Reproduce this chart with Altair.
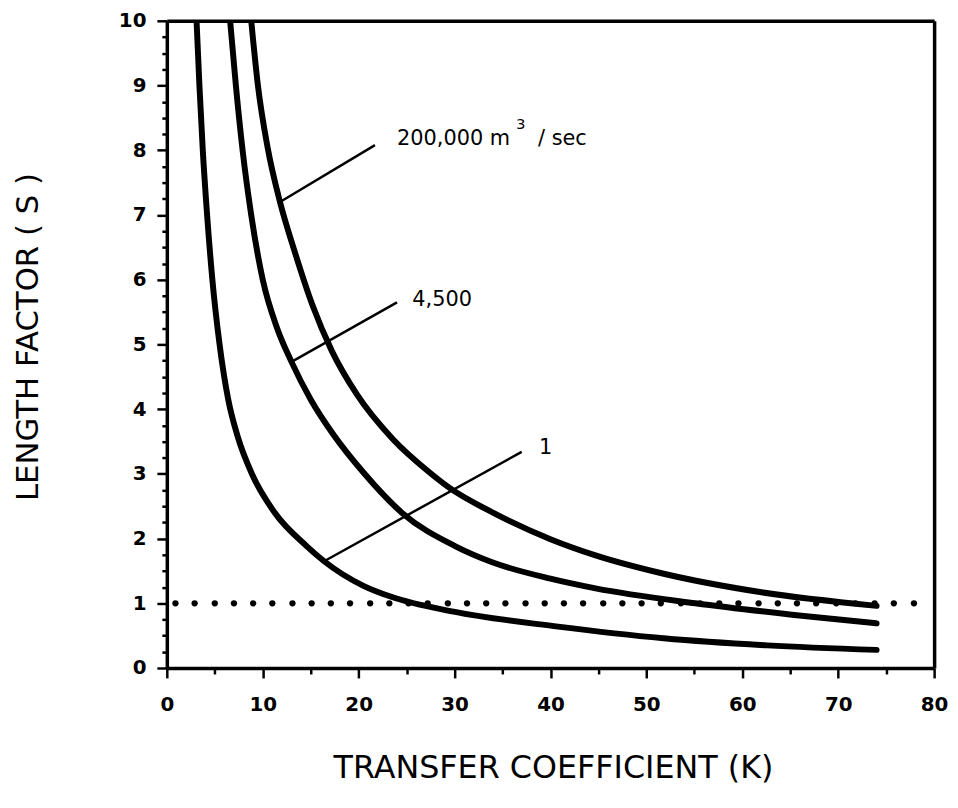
import altair as alt
import pandas as pd

# ---- data ----
Q_NAMES = ["1", "4,500", "200,000"]

K_Q1 = [3.1, 3.4, 3.75, 4.2, 4.75, 5.5, 6.4, 7.4, 8.9, 11.2, 14.6, 16.4, 20.5, 23.4, 29.9, 40.8, 51.8, 62.6, 74.0]
S_Q1 = [10.0, 9.0, 8.0, 7.0, 6.0, 5.0, 4.15, 3.57, 2.99, 2.41, 1.88, 1.65, 1.27, 1.1, 0.87, 0.64, 0.46, 0.35, 0.28]

K_Q2 = [6.6, 7.2, 7.9, 8.8, 10.0, 11.5, 13.0, 15.0, 17.4, 20.5, 24.5, 30.1, 34.0, 40.0, 44.7, 55.1, 65.4, 74.0]
S_Q2 = [10.0, 9.0, 8.0, 7.0, 6.0, 5.25, 4.73, 4.15, 3.6, 3.02, 2.4, 1.88, 1.63, 1.38, 1.23, 1.0, 0.82, 0.69]

K_Q3 = [8.8, 9.5, 10.5, 11.8, 13.3, 15.2, 17.2, 19.8, 23.6, 27.4, 29.4, 34.0, 40.0, 44.7, 51.7, 62.0, 74.0]
S_Q3 = [10.0, 9.0, 8.05, 7.2, 6.45, 5.6, 4.9, 4.23, 3.53, 3.02, 2.79, 2.4, 1.99, 1.74, 1.46, 1.17, 0.96]

# dotted reference line at S = 1 (dot positions)
DOT_K = [0.9, 2.9, 5.0, 7.0, 9.0, 11.0, 13.1, 15.1, 17.1, 19.1, 21.2, 23.2, 25.2,
         27.2, 29.3, 31.3, 33.3, 35.3, 37.4, 39.4, 41.4, 43.4, 45.5, 47.5, 49.5,
         51.5, 53.6, 55.6, 57.6, 59.6, 61.7, 63.7, 65.7, 67.7, 69.8, 71.8, 73.8,
         75.8, 77.9]
DOT_S = 1.0

# leader lines (curve point -> label end)
LEAD_K0 = [16.4, 13.0, 11.8]
LEAD_S0 = [1.65, 4.73, 7.2]
LEAD_K1 = [37.0, 24.0, 21.7]
LEAD_S1 = [3.34, 5.65, 8.08]

# labels
LABEL_TEXT = ["1", "4,500", "200,000 m", "3", "/ sec"]
LABEL_K = [38.8, 25.6, 24.0, 36.4, 38.7]
LABEL_S = [3.40, 5.68, 8.17, 8.40, 8.17]
LABEL_SIZE = [21, 21, 21, 15, 21]

X_TICKS = [0, 10, 20, 30, 40, 50, 60, 70, 80]
Y_TICKS = [0, 1, 2, 3, 4, 5, 6, 7, 8, 9, 10]
X_MINOR = [5, 15, 25, 35, 45, 55, 65, 75]
Y_MINOR = [i / 4 for i in range(41) if i % 4 != 0]

# ---- tables ----
rows = []
for q, ks, ss in zip(Q_NAMES, [K_Q1, K_Q2, K_Q3], [S_Q1, S_Q2, S_Q3]):
    for i, (k, s) in enumerate(zip(ks, ss)):
        rows.append({"K": k, "S": s, "Q": q, "order": i})
curves_df = pd.DataFrame(rows)

dots_df = pd.DataFrame({"K": DOT_K, "S": [DOT_S] * len(DOT_K)})
lead_df = pd.DataFrame({"k0": LEAD_K0, "s0": LEAD_S0, "k1": LEAD_K1, "s1": LEAD_S1})
label_df = pd.DataFrame({"K": LABEL_K, "S": LABEL_S, "text": LABEL_TEXT, "size": LABEL_SIZE})

xscale = alt.Scale(domain=[0, 80], nice=False, zero=False)
yscale = alt.Scale(domain=[0, 10], nice=False, zero=False)

FONT = "DejaVu Sans"

x_axis = alt.Axis(
    values=X_TICKS, grid=False, title="TRANSFER COEFFICIENT (K)",
    labelFont=FONT, labelFontSize=20, labelFontWeight="bold", labelColor="black",
    labelPadding=17, labelFlush=False, tickSize=10, tickWidth=2.5, tickColor="black",
    domainColor="black", domainWidth=3.5,
    titleFont=FONT, titleFontSize=32, titleFontWeight="normal", titleColor="black",
    titleX=389, titleY=100, titleAlign="center", titleBaseline="middle",
)
y_axis = alt.Axis(
    values=Y_TICKS, grid=False, title="LENGTH FACTOR ( S )",
    labelFont=FONT, labelFontSize=20, labelFontWeight="bold", labelColor="black",
    labelPadding=11, tickSize=10, tickWidth=2.5, tickColor="black",
    domainColor="black", domainWidth=3.5,
    titleFont=FONT, titleFontSize=31, titleFontWeight="normal", titleColor="black",
    titleAngle=270, titleX=-139, titleY=318, titleAlign="center", titleBaseline="middle",
)

curves = alt.Chart(curves_df).mark_line(
    color="black", strokeWidth=6, strokeCap="round", strokeJoin="round",
    interpolate="monotone", clip=True,
).encode(
    x=alt.X("K:Q", scale=xscale, axis=x_axis),
    y=alt.Y("S:Q", scale=yscale, axis=y_axis),
    detail="Q:N",
    order="order:Q",
)

# dots; their axes draw the minor ticks
dots = alt.Chart(dots_df).mark_circle(color="black", opacity=1, size=40).encode(
    x=alt.X("K:Q", scale=xscale, axis=alt.Axis(
        values=X_MINOR, labels=False, domain=False, grid=False, orient="bottom",
        tickSize=6, tickWidth=2.5, tickColor="black", title=None)),
    y=alt.Y("S:Q", scale=yscale, axis=alt.Axis(
        values=Y_MINOR, labels=False, domain=False, grid=False, orient="left",
        tickSize=5, tickWidth=2.5, tickColor="black", title=None)),
)

# leader lines; their axes draw the top and right frame lines
leaders = alt.Chart(lead_df).mark_rule(color="black", strokeWidth=2.5).encode(
    x=alt.X("k0:Q", scale=xscale, axis=alt.Axis(
        orient="top", labels=False, ticks=False, grid=False, domain=True,
        domainColor="black", domainWidth=3.5, title=None)),
    y=alt.Y("s0:Q", scale=yscale, axis=alt.Axis(
        orient="right", labels=False, ticks=False, grid=False, domain=True,
        domainColor="black", domainWidth=3.5, title=None)),
    x2="k1:Q",
    y2="s1:Q",
)

labels = alt.Chart(label_df).mark_text(
    align="left", baseline="middle", font=FONT, color="black",
).encode(
    x=alt.X("K:Q", scale=xscale, axis=None),
    y=alt.Y("S:Q", scale=yscale, axis=None),
    text="text:N",
    size=alt.Size("size:Q", scale=None, legend=None),
)

chart = alt.layer(curves, dots, leaders, labels).resolve_axis(
    x="independent", y="independent"
).properties(
    width=773, height=652,
    autosize=alt.AutoSizeParams(type="none"),
    padding={"left": 160, "top": 10, "right": 16, "bottom": 120},
).configure_view(
    stroke="transparent",
).configure(background="white")

chart.save("out.html", embed_options={"renderer": "svg", "actions": False})
